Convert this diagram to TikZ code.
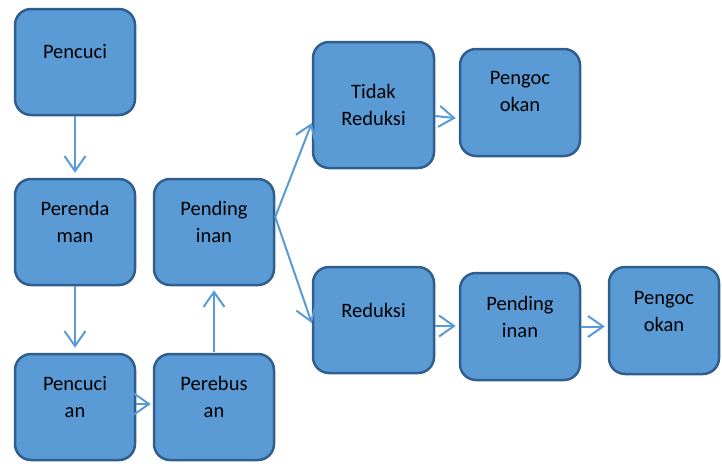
\documentclass[tikz,border=0pt]{standalone}
\usepackage{fontspec}
\setmainfont{Carlito}
\usetikzlibrary{arrows.meta}
\definecolor{boxfill}{HTML}{5B9BD5}
\definecolor{boxline}{HTML}{2F5F8F}
\definecolor{arrowblue}{HTML}{5B9BD5}

\begin{document}
\begin{tikzpicture}[x=1pt, y=-1pt,
        box/.style={draw=boxline, fill=boxfill, line width=2.5pt, rounded corners=16pt,
            minimum width=120pt, minimum height=106pt, inner sep=0pt},
        txt/.style={align=center, font=\fontsize{20.5}{27}\selectfont, text=black, yshift=10pt},
        flow/.style={draw=arrowblue, line width=2pt,
            -{Straight Barb[length=15pt, width=21pt, line width=2pt]}}]
    \useasboundingbox (0,0) rectangle (722,463);

    % left column and the middle one
    \node[box, label={[txt]center:Pencuci}] (pencuci) at (75,62) {};
    \node[box, label={[txt]center:Perenda\\man}] (perendaman) at (75,232) {};
    \node[box, label={[txt]center:Pencuci\\an}] (pencucian) at (75,407) {};
    \node[box, label={[txt]center:Perebus\\an}] (perebusan) at (214,407) {};
    \node[box, label={[txt]center:Pending\\inan}] (pendinginan) at (214,232) {};

    % two branches
    \node[box, minimum width=121pt, minimum height=126pt,
        label={[txt, yshift=-10pt]center:Tidak\\Reduksi}] (tidakreduksi) at (373.5,105) {};
    \node[box, minimum height=107pt, label={[txt, yshift=1pt]center:Pengoc\\okan}] (pengocokan) at (520,102.5) {};
    \node[box, minimum width=121pt, label={[txt]center:Reduksi}] (reduksi) at (373.5,320) {};
    \node[box, minimum height=107pt, label={[txt]center:Pending\\inan}] (pendinginanb) at (520,326.5) {};
    \node[box, minimum width=110pt, minimum height=107pt,
        label={[txt, yshift=-1pt]center:Pengoc\\okan}] (pengocokanb) at (664,320.5) {};

    \draw[flow, shorten >=5pt] (pencuci.south) -- (perendaman.north);
    \draw[flow, shorten >=5pt] (perendaman.south) -- (pencucian.north);
    \draw[flow, shorten >=2pt] ([yshift=3pt]pencucian.east) -- ([yshift=3pt]perebusan.west);
    \draw[flow, shorten <=1pt, shorten >=4pt] (perebusan.north) -- (pendinginan.south);
    \draw[flow] ([yshift=15pt]pendinginan.east) -- ([yshift=-18pt]tidakreduksi.west);
    \draw[flow] ([yshift=15pt]pendinginan.east) -- ([yshift=-3pt]reduksi.west);
    \draw[flow, shorten >=3pt] ([yshift=-11pt]tidakreduksi.east) -- ([yshift=-13.5pt]pengocokan.west |- tidakreduksi.east);
    \draw[flow, shorten >=3pt] ([yshift=-6pt]reduksi.east) -- ([yshift=-6pt]pendinginanb.west |- reduksi.east);
    \draw[flow, shorten >=3pt] (pendinginanb.east) -- (pendinginanb.east -| pengocokanb.west);
\end{tikzpicture}
\end{document}
